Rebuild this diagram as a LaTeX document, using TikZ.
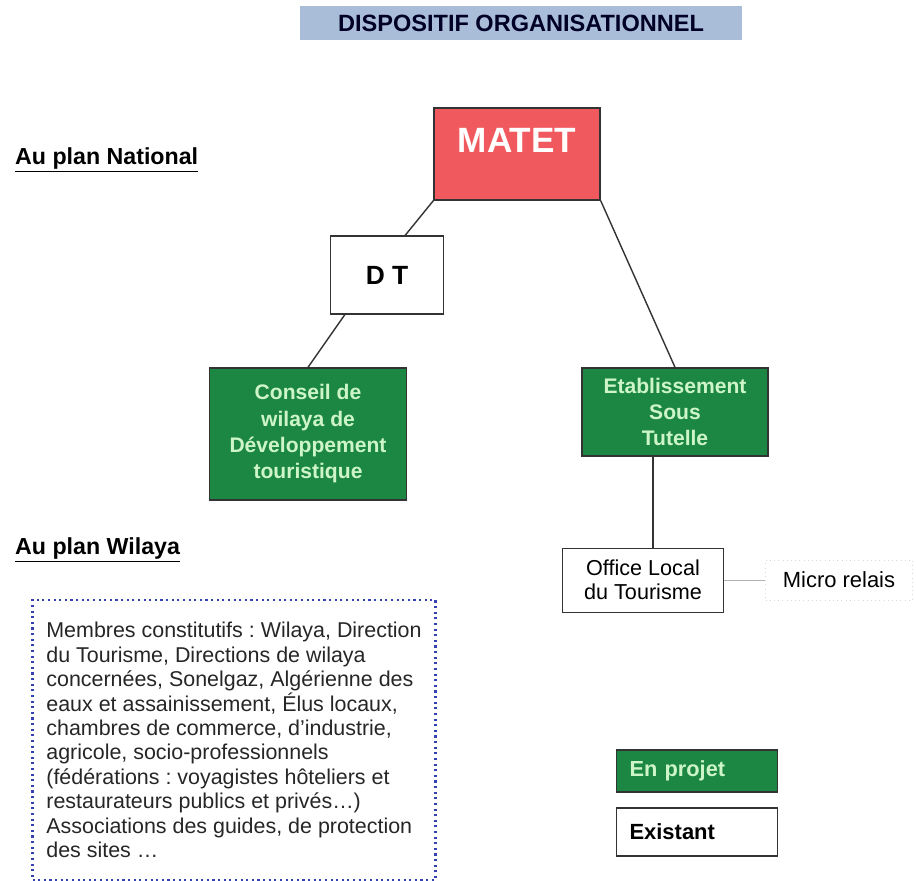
\documentclass[tikz,border=0pt]{standalone}
\usepackage{fontspec}
\setmainfont{Liberation Sans}
\usetikzlibrary{positioning}

\definecolor{matetred}{HTML}{F05A5E}
\definecolor{projgreen}{HTML}{1C8743}
\definecolor{projtext}{HTML}{CDF5C8}
\definecolor{titleblue}{HTML}{A9BDD9}
\definecolor{dotblue}{HTML}{3442B0}

\frenchspacing
\begin{document}
\begin{tikzpicture}[
    x=0.02cm, y=-0.02cm,
    projet/.style={rectangle, draw=black!80, fill=projgreen, text=projtext, font=\bfseries\fontsize{12}{15}\selectfont, align=center, thick},
    existant/.style={rectangle, draw=black!80, fill=white, thick, align=center},
    heading/.style={font=\bfseries\fontsize{13.2}{15}\selectfont, anchor=west},
    link/.style={draw=black!80, thick}
]
\useasboundingbox (0,0) rectangle (916,881);

% Title
\node[fill=titleblue, minimum width=8.84cm, minimum height=0.68cm, font=\bfseries\fontsize{13.4}{15}\selectfont, text=black!85!blue] (title) at (521,23) {DISPOSITIF ORGANISATIONNEL};

% National level
\node[heading] (national) at (9,160) {\underline{Au plan National}};
\node[rectangle, draw=black!80, thick, fill=matetred, minimum width=3.32cm, minimum height=1.84cm] (matet) at (517,154) {};
\node[font=\bfseries\fontsize{20}{22}\selectfont, text=white] (matettxt) at ([yshift=-0.66cm]matet.north) {MATET};
\node[existant, minimum width=2.26cm, minimum height=1.56cm, font=\bfseries\fontsize{15}{17}\selectfont] (dt) at (387,275) {D T};
\node[projet, minimum width=3.94cm, minimum height=2.64cm] (cwdt) at (308,434) {Conseil de\\wilaya de\\Développement\\touristique};
\node[projet, minimum width=3.72cm, minimum height=1.76cm] (est) at (675,412) {Etablissement\\Sous\\Tutelle};

% Wilaya level
\node[heading] (wilaya) at (9,550) {\underline{Au plan Wilaya}};
\node[existant, thin, minimum width=3.22cm, minimum height=1.28cm, font=\fontsize{12.3}{13.5}\selectfont] (olt) at (643,580) {Office Local\\du Tourisme};
\node[rectangle, draw=gray!30, dotted, minimum width=2.94cm, minimum height=0.8cm, font=\fontsize{12.5}{14}\selectfont] (micro) at (839,580) {Micro relais};
\node[rectangle, draw=dotblue, dotted, very thick, minimum width=8.06cm, minimum height=5.6cm, align=left, font=\fontsize{12.2}{13.9}\selectfont, text=black!85] (membres) at (234,740) {Membres constitutifs : Wilaya, Direction\\du Tourisme, Directions de wilaya\\concernées, Sonelgaz, Algérienne des\\eaux et assainissement, Élus locaux,\\chambres de commerce, d'industrie,\\agricole, socio-professionnels\\(fédérations : voyagistes hôteliers et\\restaurateurs publics et privés…)\\Associations des guides, de protection\\des sites …};

% Legend
\node[projet, minimum width=3.22cm, minimum height=0.84cm, text width=2.7cm, align=left, font=\bfseries\fontsize{12.4}{14}\selectfont] (leg1) at (697,771) {En projet};
\node[existant, minimum width=3.22cm, minimum height=0.96cm, text width=2.7cm, align=left, font=\bfseries\fontsize{12.5}{14}\selectfont] (leg2) at (697,832) {Existant};

% Links
\draw[link] (matet.south west) -- ([xshift=-0.78cm]dt.north east);
\draw[link] ([xshift=0.3cm]dt.south west) -- (cwdt.north);
\draw[link] (matet.south east) -- (est.north);
\draw[link] ([xshift=0.2cm]olt.north) -- ([xshift=0.2cm]olt.north |- est.south);
\draw[draw=gray!60] (olt.east) -- (micro.west);

\end{tikzpicture}
\end{document}
